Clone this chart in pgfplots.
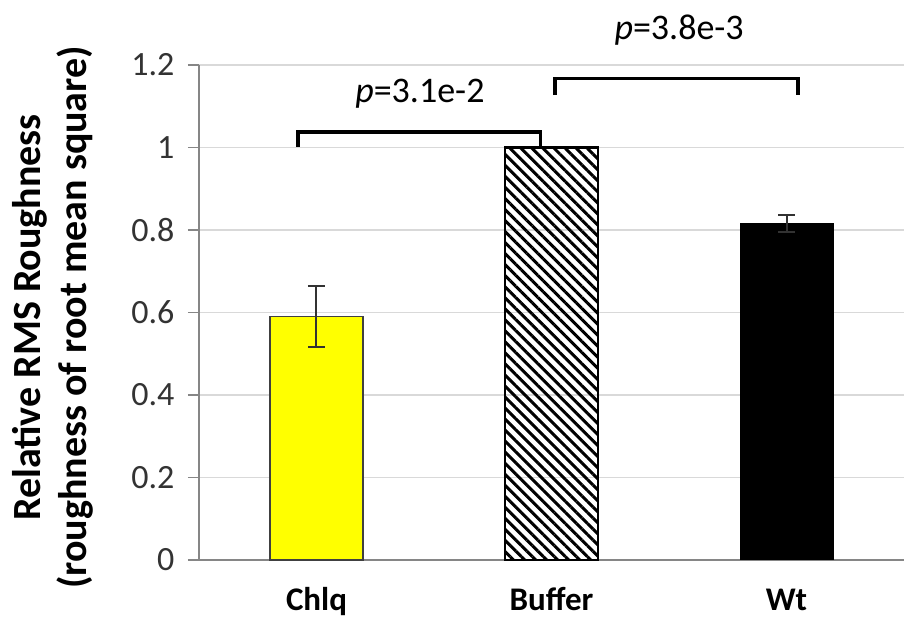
\documentclass[border=0pt]{standalone}
\usepackage{pgfplots}
\pgfplotsset{compat=1.18}
\usepackage{fontspec}
\setmainfont{Carlito}
\usetikzlibrary{patterns.meta}
\definecolor{gridgray}{RGB}{217,217,217}
\definecolor{axgray}{RGB}{134,134,134}
\definecolor{errgray}{RGB}{50,50,50}
\definecolor{yel}{RGB}{255,255,0}
\begin{document}
\begin{tikzpicture}
\path[use as bounding box] (-199pt,-60pt) rectangle (705pt,560pt);
\begin{axis}[
  scale only axis,
  width=705pt, height=495pt,
  xmin=-0.5, xmax=2.5,
  ymin=0, ymax=1.2,
  ytick={0,0.2,0.4,0.6,0.8,1,1.2},
  xtick={0,1,2},
  xticklabels={Chlq,Buffer,Wt},
  x tick style={draw=none},
  extra x ticks={-0.5,0.5,1.5,2.5},
  extra x tick labels={},
  extra x tick style={tick style={draw=axgray, line width=1.5pt}},
  axis x line=bottom, axis y line=left,
  axis line style={-, draw=axgray, line width=1.5pt},
  y tick style={draw=axgray, line width=1.5pt},
  tick align=outside,
  major tick length=11pt,
  ymajorgrids,
  grid style={draw=gridgray, line width=1.5pt},
  /pgf/number format/assume math mode=true,
  yticklabel style={font=\fontsize{34}{38}\selectfont, color=black!80, xshift=-10pt},
  xticklabel style={font=\bfseries\fontsize{33}{38}\selectfont, anchor=base, inner sep=0pt, yshift=-39pt},
  ybar, bar width=93pt, bar shift=0pt,
  clip=false,
]
\addplot[fill=yel, draw=black!75, line width=1.5pt,
  error bars/.cd, y dir=both, y explicit,
  error bar style={draw=errgray, line width=2pt},
  error mark options={rotate=90, mark size=8.5pt, draw=errgray, line width=2pt}]
  coordinates {(0,0.59) +- (0,0.074)};
\addplot[pattern={Lines[angle=-45, distance=7.8pt, line width=3pt]}, pattern color=black, draw=black, line width=2.5pt]
  coordinates {(1,1.0)};
\addplot[fill=black, draw=black, line width=1pt,
  error bars/.cd, y dir=both, y explicit,
  error bar style={draw=errgray, line width=2pt},
  error mark options={rotate=90, mark size=8.5pt, draw=errgray, line width=2pt}]
  coordinates {(2,0.816) +- (0,0.02)};
% significance brackets
\draw[line width=3.5pt, line cap=butt] (axis cs:-0.079,1.002) -- (axis cs:-0.079,1.0376) -- (axis cs:0.953,1.0376) -- (axis cs:0.953,1.002);
\draw[line width=3.5pt, line cap=butt] (axis cs:1.014,1.127) -- (axis cs:1.014,1.167) -- (axis cs:2.048,1.167) -- (axis cs:2.048,1.127);
\node[anchor=base, font=\fontsize{36}{40}\selectfont] at (axis cs:0.44,1.109) {\textit{p}=3.1e-2};
\node[anchor=base, font=\fontsize{36}{40}\selectfont] at (axis cs:1.543,1.2606) {\textit{p}=3.8e-3};
\node[xshift=-146pt, rotate=90, align=center, font=\bfseries\fontsize{40}{46}\selectfont] at (rel axis cs:0,0.49) {Relative RMS Roughness\\(roughness of root mean square)};
\end{axis}
\end{tikzpicture}
\end{document}
